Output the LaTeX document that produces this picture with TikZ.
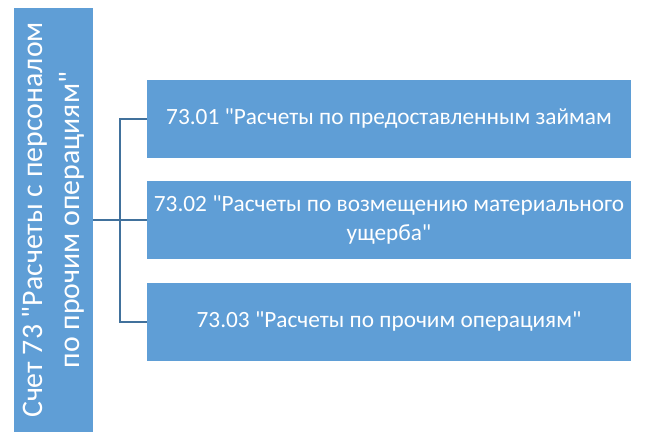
\documentclass[tikz,border=0pt]{standalone}
\usepackage{fontspec}
\setmainfont{Carlito}[Ligatures=TeXOff]
\usepackage{tikz}
\usetikzlibrary{positioning,calc}
\definecolor{boxblue}{HTML}{5F9ED6}
\definecolor{linkblue}{HTML}{41719C}

\begin{document}
\begin{tikzpicture}[x=1pt, y=1pt,
    accountbox/.style={fill=boxblue, text=white, rotate=90, align=center,
      minimum width=423pt, minimum height=79pt, inner sep=0pt,
      font=\fontsize{29.8}{37}\selectfont},
    subbox/.style={fill=boxblue, text=white, align=center,
      minimum width=484pt, minimum height=78pt, inner sep=0pt,
      font=\fontsize{23.3}{29.3}\selectfont},
    link/.style={draw=linkblue, line width=1.5pt}]
  \useasboundingbox (0,0) rectangle (653,440);
  % Sub-accounts
  \node[subbox] (b1) at (389,321) {73.01 "Расчеты по предоставленным займам};
  \node[subbox] (b2) at (389,220) {73.02 "Расчеты по возмещению материального\\ущерба"};
  \node[subbox] (b3) at (389,118) {73.03 "Расчеты по прочим операциям"};
  % Main account
  \node[accountbox] (acc) at (53.5,220) {Счет 73 "Расчеты с персоналом\\по прочим операциям"};
  % Connectors
  \coordinate (spine) at ($(acc.south)!0.5!(b2.west)$);
  \draw[link] (acc.south) -- (b2.west);
  \draw[link] (b1.west) -| (spine) |- (b3.west);
\end{tikzpicture}
\end{document}
